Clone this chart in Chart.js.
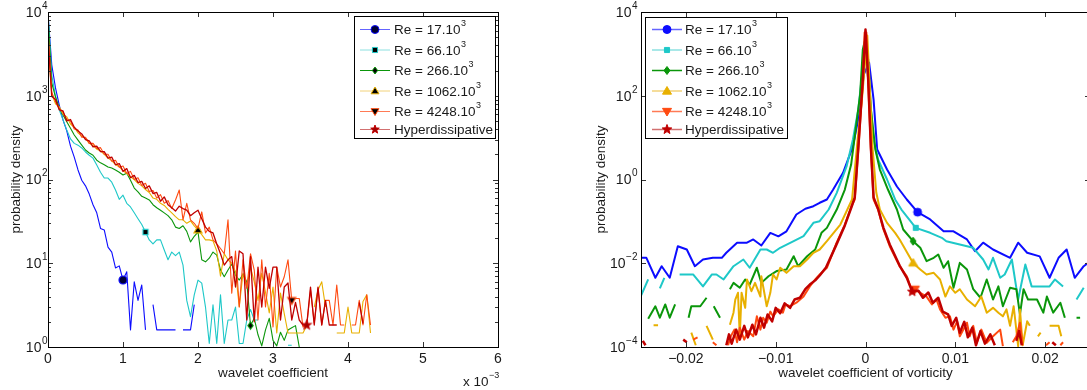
<!DOCTYPE html>
<html>
<head>
<meta charset="utf-8">
<title>Wavelet coefficient PDFs</title>
<script src="https://cdn.jsdelivr.net/npm/chart.js@4.4.1/dist/chart.umd.min.js"></script>
<style>
  html, body { margin: 0; padding: 0; background: #fff; overflow: hidden; }
  body { width: 1087px; height: 390px; position: relative; }
  .panel { position: absolute; top: 0; width: 540px; height: 390px; }
  #panelLeft { left: 0; }
  #panelRight { left: 555px; }
</style>
</head>
<body>
<div class="panel" id="panelLeft"><canvas id="pdfCoef"></canvas></div>
<div class="panel" id="panelRight"><canvas id="pdfVort"></canvas></div>
<script>
// ---------- left panel: pdf of wavelet coefficient (x in units of 1e-3) ----------
const coefLeft = [0,0.05,0.1,0.15,0.2,0.25,0.3,0.35,0.4,0.45,0.5,0.55,0.6,0.65,0.7,0.75,0.8,0.85,0.9,0.95,
  1,1.05,1.1,1.15,1.2,1.25,1.3,1.35,1.4,1.45,1.5,1.55,1.6,1.65,1.7,1.75,1.8,1.85,1.9,1.95,
  2,2.05,2.1,2.15,2.2,2.25,2.3,2.35,2.4,2.45,2.5,2.55,2.6,2.65,2.7,2.75,2.8,2.85,2.9,2.95,
  3,3.05,3.1,3.15,3.2,3.25,3.3,3.35,3.4,3.45,3.5,3.55,3.6,3.65,3.7,3.75,3.8,3.85,3.9,3.95,
  4,4.05,4.1,4.15,4.2,4.25,4.3];

const pdfRe17 = [9500,2340,1240,775,515,380,250,185,130,98, 84,67,50,40,26,25,15.6,13.6,8.8,9.3,
  6.3,7.9,1.6,6.0,3.6,5.5,1.6,null,3.2,1.6, 1.6,1.6,1.6,1.6,1.6,null,1.6,1.6,1.6,3.2];
const pdfRe66 = [10000,1770,990,680,515,390,305,270,257,238, 213,195,180,149,122,104,104,93,75,58,
  65,52,47,40,34,29,23.6,19,17,19, 19,14.4,11,13.6,12.3,13.6,9.5,3.6,2.3,4.2,
  6.3,5.8,3.0,1.1,3.2,1.1,4.2,1.1,2.1,2.1, 3.0,1.1,1.1,2.1,2.8,2.1,2.1,null,null,null,
  null,null,null,null,1.05,1.05];
const pdfRe266 = [9000,1420,965,720,590,490,410,340,295,257, 225,207,195,170,158,150,141,137,130,122,
  113,119,98,79,71,63,60,57,50,46, 43,40,37,33,27,26,28,24,18,21,
  23.6,11,10.4,11.5,13.6,12.5,8.3,6.9,8.3,9.8, 7.2,6.3,7.4,6.0,1.8,2.2,1.4,1.03,1.6,2.2,
  1.2,1.03,1.5,1.2,1.6,1.7,1.8,1.0];
const pdfRe1062 = [4200,1050,800,740,600,560,460,420,360,330, 310,270,255,230,220,200,180,168,150,142,
  128,118,108,100,90,84,76,70,60,58, 52,49,44,40,36,33,33,30,32,28,
  25,22,19,19,18.5,14,7,13,11,10, 8,3.0,7.6,5.2,9,6,3.6,7.6,4.5,2.55,
  5.2,1.47,4.4,2.5,1.47,1.47,1.47,1.47,1.47,1.8, null,3.0,4.8,6.0,3.0,null,null,1.47,1.47,1.47,
  3.0,1.47,1.47,1.47,3.5,4.2,1.47];
const pdfRe4248 = [6000,1100,850,700,640,520,500,400,390,320, 320,270,270,235,240,200,200,165,170,140,
  145,118,125,100,105,85,90,72,74,60, 66,52,56,45,57,75,33,52,33,30,
  26,41,23,27,19,17,15,13,33,4.4, 14,3.0,11,5,13,8.3,2.1,11,3,7.6,
  1.73,9,5.2,6.9,11,3.6,3.8,3.8,1.73,1.83, 4.8,1.93,5,1.83,3.6,3.6,1.83,5.5,1.83,1.83,
  null,1.83,1.83,3.6,1.83,4.2,1.83];
const pdfHyper = [5000,980,900,680,660,500,520,420,380,350, 300,290,245,250,215,215,180,185,150,155,
  125,135,105,112,92,95,78,84,68,70, 55,62,50,46,42,48,45,43,37,40,
  43,34,27,24,23,17,13,9.5,11,12, 5.2,14,13,2.1,12,2.0,9,3.0,9,5,
  9,9,2.1,5.2,5.8,2.1,3.4,2.1,1.83,1.83, 5.2,1.83,5.2,1.83,3.6,1.83,1.83,1.83,null,null,
  null,null,null,3.4,1.9];

// ---------- right panel: pdf of wavelet coefficient of vorticity, [x, pdf] ----------
const vortRe17 = [[-0.0251,0.0135],[-0.0244,0.0135],[-0.0234,0.0045],[-0.0227,0.0085],[-0.0218,0.0045],[-0.0209,0.0255],
  [-0.0199,0.0213],[-0.019,0.0085],[-0.0181,0.0123],[-0.017,0.0135],[-0.016,0.0135],[-0.0155,0.0178],[-0.0143,0.031],
  [-0.0132,0.031],[-0.0125,0.037],[-0.0116,0.0265],[-0.0106,0.053],[-0.0097,0.044],[-0.0088,0.058],[-0.0077,0.146],
  [-0.0067,0.2],[-0.0058,0.23],[-0.0051,0.278],[-0.0043,0.333],[-0.0036,0.577],[-0.0025,1.45],[-0.0014,6.2],
  [-0.0006,47],[-0.0002,320],[0.0004,620],[0.0009,81],[0.0013,5.2],[0.0024,1.73],[0.0035,0.68],[0.0046,0.333],
  [0.0058,0.166],[0.0072,0.111],[0.0087,0.058],[0.0098,0.058],[0.0113,0.037],[0.0122,0.0194],[0.0131,0.031],
  [0.0142,0.0213],[0.0161,0.0135],[0.017,0.031],[0.018,0.0178],[0.0194,0.0146],[0.0205,0.0045],[0.0215,0.0135],
  [0.0224,0.0213],[0.0233,0.0045],[0.0243,0.0085],[0.025,0.011]];
const vortRe66 = [[-0.0251,0.0015],[-0.0242,0.0041],[-0.0238,null],[-0.0229,0.0025],[-0.0224,0.0045],[-0.0218,null],
  [-0.0207,0.0054],[-0.0192,0.0054],[-0.0181,0.0028],[-0.0171,0.0054],[-0.0166,0.0054],[-0.0158,0.0041],[-0.0147,0.0085],
  [-0.0136,0.0123],[-0.0129,0.0078],[-0.0117,0.0213],[-0.011,0.0213],[-0.0103,0.0178],[-0.0095,0.0234],[-0.008,0.0336],
  [-0.0069,0.0443],[-0.0058,0.0925],[-0.0051,0.101],[-0.0041,0.192],[-0.0032,0.48],[-0.0021,2.08],[-0.0014,9.0],
  [-0.0008,47],[-0.0004,293],[-0.0001,1270],[0.0001,735],[0.0005,81],[0.0009,9.0],[0.0014,3.0],[0.0024,1.0],
  [0.0033,0.333],[0.004,0.192],[0.0056,0.07],[0.0072,0.0533],[0.0085,0.0405],[0.009,0.0336],[0.0105,0.028],
  [0.012,0.0234],[0.0131,0.0123],[0.0137,0.0071],[0.0142,0.0135],[0.015,0.0045],[0.0155,0.0054],[0.0163,0.0123],
  [0.017,0.00136],[0.0178,0.0093],[0.0185,0.0028],[0.0194,0.0028],[0.0205,0.0028],[0.0211,0.0041],[0.022,0.0028],
  [0.0226,null],[0.0235,0.00136],[0.0243,0.0026]];
const vortRe266 = [[-0.0242,0.00047],[-0.0234,0.00094],[-0.0229,0.0005],[-0.0223,0.00104],[-0.0218,0.0005],[-0.0212,0.00104],
  [-0.0207,null],[-0.0197,0.0005],[-0.0194,0.00094],[-0.0184,0.00094],[-0.0177,0.0015],[-0.0173,null],[-0.0169,0.00094],
  [-0.0162,0.0005],[-0.0155,null],[-0.0151,0.0024],[-0.0147,0.0034],[-0.014,0.0026],[-0.0134,0.0041],[-0.0129,0.0031],
  [-0.0121,0.0078],[-0.0116,0.0034],[-0.0108,0.0049],[-0.0099,0.0065],[-0.0088,0.0071],[-0.008,0.0147],[-0.0075,0.0085],
  [-0.0065,0.0147],[-0.0056,0.0213],[-0.0049,0.0533],[-0.0043,0.07],[-0.0032,0.192],[-0.0023,0.577],[-0.0016,2.28],
  [-0.0011,15.6],[-0.0006,107],[-0.0003,1270],[-0.0001,1950],[0.0003,735],[0.0006,47],[0.0011,5.2],[0.0016,1.73],
  [0.0025,0.577],[0.0035,0.192],[0.0042,0.064],[0.0053,0.0336],[0.0061,0.0234],[0.0068,0.0112],[0.0076,0.0135],
  [0.0081,0.0162],[0.0087,0.0078],[0.0092,0.0112],[0.0098,0.0026],[0.0105,0.0102],[0.0113,0.0071],[0.012,0.0024],
  [0.0128,0.0015],[0.0135,0.0041],[0.0142,0.00136],[0.0148,0.0028],[0.0153,0.00094],[0.0161,0.0026],[0.0168,0.0024],
  [0.0172,0.0006],[0.0176,0.0024],[0.0181,0.00136],[0.0191,0.00136],[0.0198,0.00066],[0.0202,0.0016],[0.0209,0.00066],
  [0.0217,0.00114],[0.0222,0.0005],[0.0228,null],[0.0235,0.0005],[0.0239,0.0005]];
const vortRe1062 = [[-0.0236,0.00033],[-0.0231,0.00033],[-0.0225,null],[-0.0194,0.00022],[-0.0189,0.00011],[-0.0185,null],
  [-0.0177,0.00032],[-0.017,0.00015],[-0.0165,null],[-0.0151,0.00034],[-0.0147,0.00066],[-0.0145,0.00136],[-0.0142,0.00197],
  [-0.014,0.00018],[-0.0138,0.00197],[-0.0134,0.00086],[-0.0132,0.0041],[-0.0127,0.00215],[-0.0123,0.0034],[-0.0117,0.0016],
  [-0.0116,0.0049],[-0.011,0.00094],[-0.0106,0.00197],[-0.0103,0.0054],[-0.0099,0.0041],[-0.0095,0.0078],[-0.0088,0.0059],
  [-0.008,0.0085],[-0.0073,0.0085],[-0.0065,0.0123],[-0.0058,0.0178],[-0.0051,0.0213],[-0.0043,0.0336],[-0.0028,0.084],
  [-0.0015,0.333],[-0.0009,8],[-0.0004,81],[0.0002,2750],[0.0005,120],[0.0008,5.2],[0.0012,0.49],[0.0016,0.192],
  [0.0024,0.092],[0.0033,0.053],[0.0038,0.0369],[0.0053,0.0102],[0.0061,0.0071],[0.0068,0.0054],[0.0076,0.0059],
  [0.0083,0.0041],[0.0089,0.0016],[0.0094,0.0028],[0.01,0.00197],[0.0105,0.0024],[0.0113,0.00136],[0.0122,0.00094],
  [0.0129,0.0016],[0.0135,0.00066],[0.0142,0.00086],[0.0148,0.00066],[0.0153,0.00054],[0.0157,0.00079],[0.0161,0.00032],
  [0.0165,0.00094],[0.017,0.000105],[0.0172,0.00079],[0.0175,0.00011],[0.018,0.00041],[0.0183,0.00032],[0.0188,null],
  [0.0192,0.00018],[0.0195,0.00022],[0.0199,null],[0.0205,0.00032],[0.0215,0.00032],[0.0218,0.00018]];
const vortRe4248 = [[-0.0192,0.00015],[-0.0187,0.00017],[-0.0183,null],[-0.017,0.00013],[-0.0166,0.00011],[-0.016,null],
  [-0.0153,0.00011],[-0.015,0.00018],[-0.0146,0.00026],[-0.0143,0.00013],[-0.014,0.00029],[-0.0135,0.00015],[-0.0131,0.00024],
  [-0.0125,0.00018],[-0.0121,0.00054],[-0.0117,0.00026],[-0.0114,0.0005],[-0.011,0.00038],[-0.0106,0.0007],[-0.0103,0.00054],
  [-0.0097,0.00079],[-0.0092,0.00066],[-0.0089,0.00104],[-0.0084,0.00094],[-0.0077,0.00114],[-0.0069,0.0016],[-0.0062,0.0028],
  [-0.0056,0.0041],[-0.0051,0.0054],[-0.0043,0.0078],[-0.0033,0.028],[-0.0023,0.084],[-0.0015,0.25],[-0.0012,0.333],
  [-0.0008,5.2],[-0.0003,207],[-0.0001,3240],[0.0001,3240],[0.0003,207],[0.0006,5.2],[0.0009,0.333],[0.0014,0.192],
  [0.002,0.064],[0.0027,0.0255],[0.0038,0.0085],[0.0046,0.0049],[0.005,0.0028],[0.0055,0.0024],[0.0061,0.00197],
  [0.0068,0.0016],[0.0074,0.00104],[0.0079,0.00136],[0.0083,0.00079],[0.0089,0.0005],[0.0094,0.00054],[0.0098,0.00026],
  [0.0102,0.00041],[0.0105,0.00018],[0.0113,0.00038],[0.0116,0.00018],[0.012,0.00032],[0.0124,0.000126],[0.0129,0.00026],
  [0.0135,0.000126],[0.0142,0.00018],[0.015,0.00026],[0.0153,0.000105],[0.0158,null],[0.0164,0.00013],[0.0168,0.00018],
  [0.0172,0.00038],[0.0175,0.00011],[0.018,null],[0.0201,0.00011],[0.0205,0.00013],[0.021,null],[0.0217,0.00011],[0.022,0.00013]];
const vortHyper = [[-0.0248,0.00014],[-0.0245,0.00011],[-0.024,null],[-0.0203,0.00015],[-0.0199,0.00013],[-0.0195,null],
  [-0.0155,0.00011],[-0.0152,0.0002],[-0.0149,0.00012],[-0.0144,0.00026],[-0.014,0.00015],[-0.0135,0.00032],[-0.0131,0.00017],
  [-0.0126,0.00034],[-0.0122,0.0002],[-0.0117,0.0005],[-0.0113,0.00029],[-0.0109,0.0006],[-0.0104,0.00041],[-0.01,0.00086],
  [-0.0095,0.00064],[-0.009,0.0011],[-0.0084,0.00086],[-0.0079,0.00136],[-0.0073,0.0015],[-0.0067,0.0024],[-0.0062,0.0031],
  [-0.0056,0.0039],[-0.0051,0.0051],[-0.0044,0.0079],[-0.0033,0.026],[-0.0023,0.08],[-0.0015,0.24],[-0.0012,0.37],
  [-0.0008,5.8],[-0.0003,245],[0,3800],[0.0003,245],[0.0006,5.8],[0.0009,0.37],[0.0014,0.2],[0.002,0.07],[0.0027,0.028],
  [0.0038,0.0088],[0.0046,0.0045],[0.0052,0.0021],[0.0059,0.0022],[0.0064,0.0015],[0.007,0.002],[0.0075,0.00114],
  [0.0081,0.0015],[0.0086,0.0007],[0.0092,0.0006],[0.0096,0.00032],[0.0101,0.0005],[0.0105,0.00022],[0.011,0.0004],
  [0.0114,0.00017],[0.0119,0.00029],[0.0123,0.00011],[0.0128,0.00024],[0.0133,0.00012],[0.0139,0.0002],[0.0144,0.00011],
  [0.0148,null],[0.0168,0.00014],[0.0171,0.00024],[0.0174,0.00011],[0.0178,null],[0.0208,0.00013],[0.0212,0.00011]];

const seriesNames = ["Re = 17.10^3", "Re = 66.10^3", "Re = 266.10^3", "Re = 1062.10^3", "Re = 4248.10^3", "Hyperdissipative"];
const markerCoef = [1, 1.3, 2.7, 2, 3.25, 3.45];             // x of the single marker on each left curve
const markerVort = [0.0058, 0.0056, 0.0053, 0.0053, 0.0055, 0.0052];
const coefTicks = [0, 1, 2, 3, 4, 5, 6];
const pdfTicksLeft = [1, 10, 100, 1000, 10000];
const vortTicks = [-0.02, -0.01, 0, 0.01, 0.02];
const pdfTicksRight = [1e-4, 1e-2, 1, 1e2, 1e4];

// ---------- styles ----------
const FONT = '"Liberation Sans", Arial, Helvetica, sans-serif';
const INK = "#1a1a1a";
const TICK_PX = 14, TEXT_PX = 13.5;
const lineColors = ["#0c0cff", "#1ec8c8", "#0a960a", "#e8b000", "#ff4a10", "#c00000"];
const legendLineColors = ["#6464ff", "#8ce0e0", "#0a960a", "#f2d27a", "#ff7a55", "#d27070"];
const markerKinds = ["o", "s", "d", "^", "v", "p"];

function drawMarker(g, kind, x, y, s, fill, stroke, lw) {
  const h = s / 2;
  g.beginPath();
  if (kind === "o") g.arc(x, y, h, 0, Math.PI * 2);
  else if (kind === "s") g.rect(x - h * 0.85, y - h * 0.85, h * 1.7, h * 1.7);
  else if (kind === "d") { g.moveTo(x, y - h); g.lineTo(x + h * 0.75, y); g.lineTo(x, y + h); g.lineTo(x - h * 0.75, y); g.closePath(); }
  else if (kind === "^") { g.moveTo(x, y - h); g.lineTo(x + h, y + h * 0.7); g.lineTo(x - h, y + h * 0.7); g.closePath(); }
  else if (kind === "v") { g.moveTo(x, y + h); g.lineTo(x + h, y - h * 0.7); g.lineTo(x - h, y - h * 0.7); g.closePath(); }
  else {
    for (let k = 0; k < 10; k++) {
      const r = k % 2 ? h * 0.42 : h, a = -Math.PI / 2 + k * Math.PI / 5;
      const px = x + r * Math.cos(a), py = y + r * Math.sin(a);
      if (k) g.lineTo(px, py); else g.moveTo(px, py);
    }
    g.closePath();
  }
  g.fillStyle = fill; g.fill();
  if (lw) { g.lineWidth = lw; g.strokeStyle = stroke; g.stroke(); }
}
function markerImage(kind, s, fill, stroke, lw) {
  const c = document.createElement("canvas");
  const n = Math.ceil(s + 4);
  c.width = n; c.height = n;
  drawMarker(c.getContext("2d"), kind, n / 2, n / 2, s, fill, stroke, lw);
  return c;
}

// "10" + raised exponent
function drawPow(ctx, base, exp, x, y, align, size) {
  const es = Math.round(size * 0.68);
  ctx.font = `${size}px ${FONT}`; const wb = ctx.measureText(base).width;
  ctx.font = `${es}px ${FONT}`; const we = ctx.measureText(exp).width;
  const x0 = align === "right" ? x - wb - we : x;
  ctx.textAlign = "left"; ctx.textBaseline = "middle";
  ctx.font = `${size}px ${FONT}`; ctx.fillText(base, x0, y);
  ctx.font = `${es}px ${FONT}`; ctx.fillText(exp, x0 + wb + 0.5, y - size * 0.5);
}

// MATLAB-like box, inward ticks, power-of-ten labels and the legend
const matlabAxes = {
  id: "matlabAxes",
  afterDraw(chart, args, o) {
    const { ctx, chartArea: a } = chart;
    const xs = chart.scales.x, ys = chart.scales.y;
    ctx.save();
    ctx.lineWidth = 1; ctx.strokeStyle = "#333";
    ctx.beginPath();
    o.xTicks.forEach(v => {
      const p = Math.round(xs.getPixelForValue(v)) + 0.5;
      ctx.moveTo(p, a.bottom); ctx.lineTo(p, a.bottom - 5);
      ctx.moveTo(p, a.top); ctx.lineTo(p, a.top + 5);
    });
    const yTick = (v, len) => {
      const p = Math.round(ys.getPixelForValue(v)) + 0.5;
      ctx.moveTo(a.left, p); ctx.lineTo(a.left + len, p);
      ctx.moveTo(a.right, p); ctx.lineTo(a.right - len, p);
    };
    o.yTicks.forEach(v => yTick(v, 5));
    (o.yMinor || []).forEach(v => yTick(v, 3));
    ctx.stroke();

    ctx.strokeStyle = "#000";
    ctx.strokeRect(Math.round(a.left) + 0.5, Math.round(a.top) + 0.5, Math.round(a.right - a.left), Math.round(a.bottom - a.top));

    ctx.fillStyle = INK;
    o.yTicks.forEach(v => {
      const e = Math.round(Math.log10(v));
      drawPow(ctx, "10", e < 0 ? "\u2212" + (-e) : String(e), a.left - o.labelGap, ys.getPixelForValue(v) + 1, "right", TICK_PX);
    });
    if (o.multiplier) drawPow(ctx, "x 10", "\u22123", o.multiplier.x, o.multiplier.y, "left", TEXT_PX);

    const L = o.legend;
    ctx.fillStyle = "#fff"; ctx.fillRect(L.x, L.y, L.w, L.h);
    ctx.strokeStyle = "#000"; ctx.lineWidth = 1;
    ctx.strokeRect(L.x + 0.5, L.y + 0.5, L.w, L.h);
    seriesNames.forEach((name, i) => {
      const y = L.rows[i];
      ctx.strokeStyle = legendLineColors[i]; ctx.lineWidth = L.lineWidth;
      ctx.beginPath(); ctx.moveTo(L.x0, y); ctx.lineTo(L.x1, y); ctx.stroke();
      drawMarker(ctx, markerKinds[i], (L.x0 + L.x1) / 2, y, L.sizes[i], L.fills[i], lineColors[i], 1);
      const parts = name.split("^");
      ctx.fillStyle = INK;
      drawPow(ctx, parts[0], parts[1] || "", L.tx, y + 1, "left", TEXT_PX);
    });
    ctx.restore();
  }
};

function makeDatasets(seriesPts, markerIdx, widths, images) {
  return seriesPts.map((pts, i) => ({
    label: seriesNames[i].replace("^3", "\u00b3"),
    data: pts,
    borderColor: lineColors[i],
    backgroundColor: lineColors[i],
    borderWidth: widths[i],
    borderJoinStyle: "round",
    pointStyle: images[i],
    pointRadius: c => (c.dataIndex === markerIdx[i] ? 5 : 0),
    spanGaps: false,
    tension: 0,
    order: 6 - i
  }));
}

function makeChart(id, cfg) {
  return new Chart(document.getElementById(id), {
    type: "line",
    data: { datasets: cfg.datasets },
    options: {
      responsive: true, maintainAspectRatio: false, animation: false, events: [],
      layout: { padding: { top: 12, right: cfg.padRight, left: 0, bottom: 0 } },
      plugins: { legend: { display: false }, tooltip: { enabled: false }, matlabAxes: cfg.axes },
      scales: {
        x: {
          type: "linear", min: cfg.xMin, max: cfg.xMax,
          afterBuildTicks: s => { s.ticks = cfg.xTicks.map(v => ({ value: v })); },
          afterFit: s => { s.height = 43; },
          grid: { display: false, drawTicks: false }, border: { display: false },
          ticks: { color: INK, font: { family: FONT, size: TICK_PX }, padding: 4, maxRotation: 0, autoSkip: false, callback: cfg.xFormat },
          title: { display: true, text: cfg.xTitle, color: INK, font: { family: FONT, size: TEXT_PX }, padding: { top: 0, bottom: 9 } }
        },
        y: {
          type: "logarithmic", min: cfg.yMin, max: cfg.yMax,
          afterBuildTicks: s => { s.ticks = cfg.yTicks.map(v => ({ value: v })); },
          afterFit: s => { s.width = cfg.yWidth; },
          grid: { display: false, drawTicks: false }, border: { display: false },
          ticks: { display: false },
          title: { display: true, text: "probability density", color: INK, font: { family: FONT, size: TEXT_PX }, padding: { top: cfg.yTitlePad, bottom: 0 } }
        }
      }
    },
    plugins: [matlabAxes]
  });
}

// ---------- left chart ----------
const leftSeries = [pdfRe17, pdfRe66, pdfRe266, pdfRe1062, pdfRe4248, pdfHyper]
  .map(ys => ys.map((v, i) => ({ x: coefLeft[i], y: v })));
const leftMarkerIdx = markerCoef.map(m => coefLeft.indexOf(m));
const leftFills = ["#000033", "#000", "#000", "#000", "#000", "#a00000"];
const leftSizes = [8, 6, 7, 8, 8, 9];
const leftImages = markerKinds.map((k, i) => markerImage(k, leftSizes[i], leftFills[i], lineColors[i], 1.2));
const minorLeft = [];
[1, 10, 100, 1000].forEach(d => { for (let k = 2; k <= 9; k++) minorLeft.push(d * k); });

makeChart("pdfCoef", {
  datasets: makeDatasets(leftSeries, leftMarkerIdx, [1.1, 1.1, 1.1, 1.1, 1.1, 1.3], leftImages),
  padRight: 42, xMin: 0, xMax: 6, xTicks: coefTicks, xFormat: v => String(v),
  xTitle: "wavelet coefficient", yMin: 1, yMax: 10000, yTicks: pdfTicksLeft, yWidth: 48, yTitlePad: 8,
  axes: {
    xTicks: coefTicks, yTicks: pdfTicksLeft, yMinor: minorLeft, labelGap: 1,
    multiplier: { x: 463, y: 382 },
    legend: { x: 354, y: 16, w: 141, h: 122, rows: [29.5, 50, 70.5, 91, 111.5, 129.5],
      x0: 360, x1: 390, tx: 394, lineWidth: 1, sizes: leftSizes, fills: leftFills }
  }
});

// ---------- right chart ----------
const rightSeriesRaw = [vortRe17, vortRe66, vortRe266, vortRe1062, vortRe4248, vortHyper];
const rightSeries = rightSeriesRaw.map(pts => pts.map(p => ({ x: p[0], y: p[1] })));
const rightMarkerIdx = markerVort.map((m, i) => rightSeriesRaw[i].findIndex(p => p[0] === m));
const rightSizes = [8, 6, 8, 9, 9, 10];
const rightImages = markerKinds.map((k, i) => markerImage(k, rightSizes[i], lineColors[i], lineColors[i], 1));

makeChart("pdfVort", {
  datasets: makeDatasets(rightSeries, rightMarkerIdx, [2, 2, 2, 2, 2, 2.5], rightImages),
  padRight: 5, xMin: -0.025, xMax: 0.025, xTicks: vortTicks,
  xFormat: v => (v === 0 ? "0" : (v < 0 ? "\u2212" : "") + Math.abs(v).toFixed(2)),
  xTitle: "wavelet coefficient of vorticity", yMin: 1e-4, yMax: 1e4, yTicks: pdfTicksRight, yWidth: 86, yTitlePad: 38,
  axes: {
    xTicks: vortTicks, yTicks: pdfTicksRight, labelGap: 4,
    legend: { x: 90, y: 17, w: 142, h: 121, rows: [29.5, 50, 70.5, 91, 111.5, 129.5],
      x0: 97, x1: 127, tx: 130, lineWidth: 1.5, sizes: rightSizes, fills: lineColors }
  }
});
</script>
</body>
</html>
